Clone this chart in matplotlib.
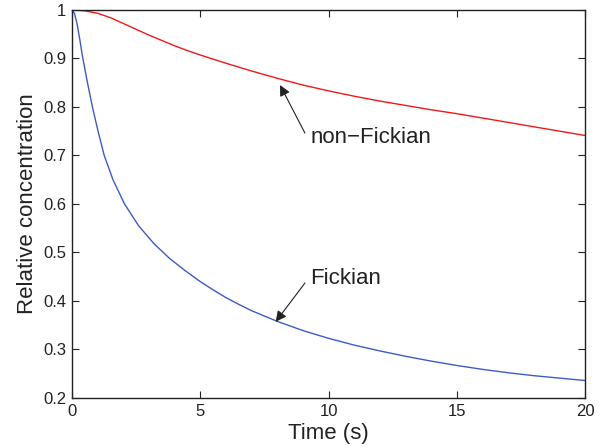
import matplotlib.pyplot as plt
from matplotlib.ticker import FuncFormatter

plt.rcParams['font.family'] = ['Liberation Sans', 'DejaVu Sans']

# values
t_fick = [0, 0.1, 0.2, 0.3, 0.41, 0.6, 0.8, 1.02, 1.26, 1.6, 2.05, 2.6, 3.2, 3.8,
          4.4, 5.0, 5.5, 6.0, 6.5, 7.0, 7.5, 8.0, 9.0, 10.0, 11.0, 12.0, 13.0,
          14.0, 15.0, 16.0, 17.0, 18.0, 19.0, 20.0]
c_fick = [1.0, 0.993, 0.972, 0.942, 0.905, 0.852, 0.80, 0.75, 0.70, 0.65, 0.60, 0.555,
          0.518, 0.488, 0.463, 0.440, 0.423, 0.407, 0.393, 0.380, 0.369, 0.358,
          0.339, 0.323, 0.309, 0.297, 0.286, 0.276, 0.267, 0.259, 0.252, 0.246, 0.241, 0.236]

t_nonfick = [0, 0.5, 1.0, 1.5, 2.0, 2.5, 3.0, 3.5, 4.0, 4.5, 5.0, 6.0, 7.0, 8.0, 9.0,
             10.0, 11.0, 12.0, 13.0, 14.0, 15.0, 16.0, 17.0, 18.0, 19.0, 20.0]
c_nonfick = [1.0, 0.998, 0.993, 0.984, 0.972, 0.960, 0.948, 0.937, 0.926, 0.916, 0.907,
             0.890, 0.874, 0.859, 0.845, 0.833, 0.822, 0.812, 0.803, 0.794, 0.786, 0.777,
             0.768, 0.759, 0.750, 0.741]

txt = '#222222'
fig = plt.figure(figsize=(6.09, 4.48), dpi=100)
ax = fig.add_axes([0.118, 0.1116, 0.843, 0.8664])

ax.plot(t_fick, c_fick, color='#3a5cc4', lw=1.0)
ax.plot(t_nonfick, c_nonfick, color='#f01818', lw=1.0)

ax.set_xlim(0, 20)
ax.set_ylim(0.2, 1)
ax.set_xticks([0, 5, 10, 15, 20])
ax.set_yticks([0.2, 0.3, 0.4, 0.5, 0.6, 0.7, 0.8, 0.9, 1.0])
ax.yaxis.set_major_formatter(FuncFormatter(lambda v, p: '%g' % round(v, 2)))
ax.tick_params(direction='in', top=True, right=True, labelsize=12, colors=txt,
               length=5, width=0.8, pad=4)
for s in ax.spines.values():
    s.set_linewidth(1.0)
    s.set_color(txt)

ax.set_xlabel('Time (s)', fontsize=16, color=txt, labelpad=3)
ax.set_ylabel('Relative concentration', fontsize=16, color=txt, labelpad=4)

arrow = dict(arrowstyle='-|>', color='#222222', lw=0.8, mutation_scale=16, shrinkA=0, shrinkB=0)
ax.annotate('', xy=(8.11, 0.845), xytext=(9.08, 0.746), arrowprops=arrow)
ax.text(9.31, 0.736, 'non\u2212Fickian', fontsize=16, color=txt, va='center', ha='left')
ax.annotate('', xy=(7.94, 0.357), xytext=(9.08, 0.437), arrowprops=arrow)
ax.text(9.28, 0.447, 'Fickian', fontsize=16, color=txt, va='center', ha='left')

fig.savefig('out.png', dpi=100)
